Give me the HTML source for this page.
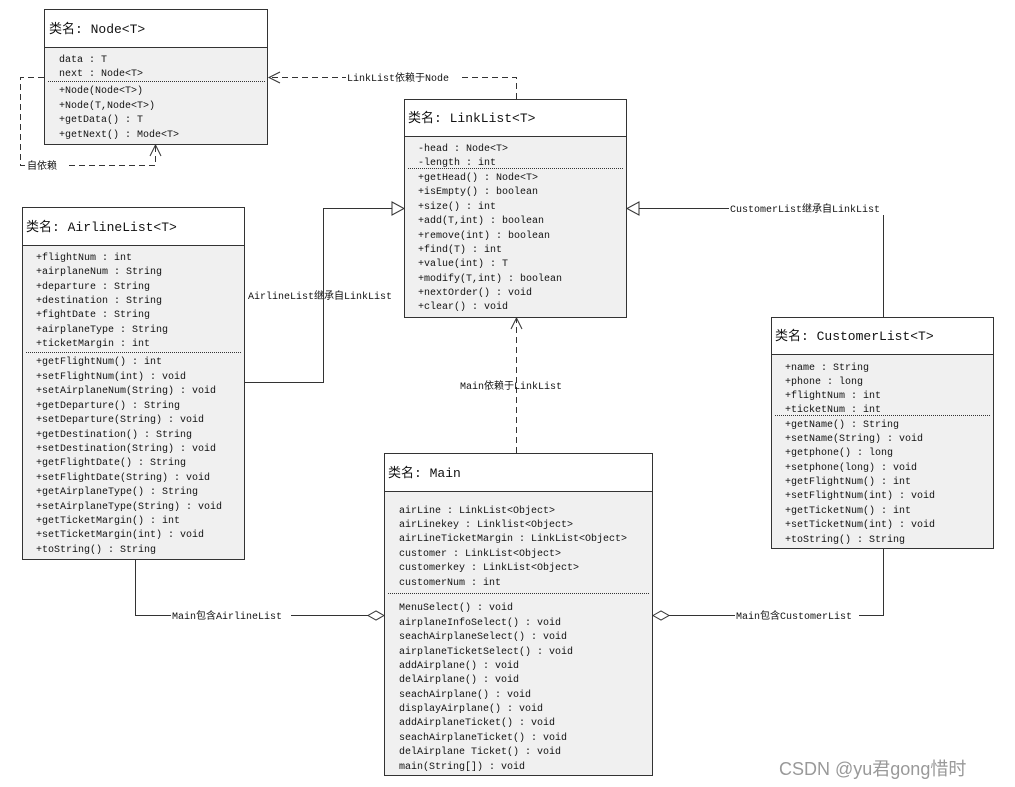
<!DOCTYPE html>
<html><head><meta charset="utf-8"><style>
html,body{margin:0;padding:0;background:#fff;width:1015px;height:787px;overflow:hidden}
svg text{font-family:"Liberation Mono","Noto Sans CJK SC",monospace;font-size:10px;fill:#111}
svg text.h{font-size:13px}
svg text.l{font-size:10px}
</style></head><body>
<svg width="1015" height="787" viewBox="0 0 1015 787" xmlns="http://www.w3.org/2000/svg">
<g stroke="#333" stroke-width="1" fill="none">
<path d="M516.5,99 V77.5 H270" stroke-dasharray="6,4"/>
<path d="M280,72 L269,77.5 L280,83" />
<path d="M44,77.5 H20.5 V165.5 H155.5 V146" stroke-dasharray="6,4"/>
<path d="M150,156 L155.5,145 L161,156"/>
<path d="M245,382.5 H323.5 V208.5 H392"/>
<path d="M392,202 L404,208.5 L392,215 Z" fill="#fff"/>
<path d="M883.5,317 V208.5 H639"/>
<path d="M639,202 L627,208.5 L639,215 Z" fill="#fff"/>
<path d="M516.5,453 V319" stroke-dasharray="6,4"/>
<path d="M511,329 L516.5,318 L522,329"/>
<path d="M135.5,559 V615.5 H368"/>
<path d="M384,615.5 L376,611 L368,615.5 L376,620 Z" fill="#fff"/>
<path d="M883.5,549 V615.5 H669"/>
<path d="M653,615.5 L661,611 L669,615.5 L661,620 Z" fill="#fff"/>
</g>
<rect x="346" y="70" width="116" height="14" fill="#fff"/>
<text class="l" x="347" y="81">LinkList依赖于Node</text>
<rect x="26" y="158" width="40" height="14" fill="#fff"/>
<text class="l" x="27" y="169">自依赖</text>
<text class="l" x="248" y="299">AirlineList继承自LinkList</text>
<rect x="729" y="201" width="160" height="14" fill="#fff"/>
<text class="l" x="730" y="212">CustomerList继承自LinkList</text>
<text class="l" x="460" y="389">Main依赖于LinkList</text>
<rect x="171" y="608" width="120" height="14" fill="#fff"/>
<text class="l" x="172" y="619">Main包含AirlineList</text>
<rect x="735" y="608" width="124" height="14" fill="#fff"/>
<text class="l" x="736" y="619">Main包含CustomerList</text>

<rect x="44.5" y="9.5" width="223" height="135" fill="#f0f0f0" stroke="#333"/>
<rect x="45" y="10" width="222" height="37" fill="#fff"/>
<line x1="44" y1="47.5" x2="268" y2="47.5" stroke="#333"/>
<line x1="48" y1="81.5" x2="265" y2="81.5" stroke="#333" stroke-dasharray="1,1"/>
<text class="h" x="49" y="33">类名: Node&lt;T&gt;</text>
<text x="59" y="62">data : T</text>
<text x="59" y="76">next : Node&lt;T&gt;</text>
<text x="59" y="93">+Node(Node&lt;T&gt;)</text>
<text x="59" y="108">+Node(T,Node&lt;T&gt;)</text>
<text x="59" y="122">+getData() : T</text>
<text x="59" y="137">+getNext() : Mode&lt;T&gt;</text>

<rect x="404.5" y="99.5" width="222" height="218" fill="#f0f0f0" stroke="#333"/>
<rect x="405" y="100" width="221" height="36" fill="#fff"/>
<line x1="404" y1="136.5" x2="627" y2="136.5" stroke="#333"/>
<line x1="408" y1="168.5" x2="623" y2="168.5" stroke="#333" stroke-dasharray="1,1"/>
<text class="h" x="408" y="122">类名: LinkList&lt;T&gt;</text>
<text x="418" y="151">-head : Node&lt;T&gt;</text>
<text x="418" y="165">-length : int</text>
<text x="418" y="180">+getHead() : Node&lt;T&gt;</text>
<text x="418" y="194">+isEmpty() : boolean</text>
<text x="418" y="209">+size() : int</text>
<text x="418" y="223">+add(T,int) : boolean</text>
<text x="418" y="238">+remove(int) : boolean</text>
<text x="418" y="252">+find(T) : int</text>
<text x="418" y="266">+value(int) : T</text>
<text x="418" y="281">+modify(T,int) : boolean</text>
<text x="418" y="295">+nextOrder() : void</text>
<text x="418" y="309">+clear() : void</text>

<rect x="22.5" y="207.5" width="222" height="352" fill="#f0f0f0" stroke="#333"/>
<rect x="23" y="208" width="221" height="37" fill="#fff"/>
<line x1="22" y1="245.5" x2="245" y2="245.5" stroke="#333"/>
<line x1="26" y1="352.5" x2="242" y2="352.5" stroke="#333" stroke-dasharray="1,1"/>
<text class="h" x="26" y="231">类名: AirlineList&lt;T&gt;</text>
<text x="36" y="260">+flightNum : int</text>
<text x="36" y="274">+airplaneNum : String</text>
<text x="36" y="289">+departure : String</text>
<text x="36" y="303">+destination : String</text>
<text x="36" y="317">+fightDate : String</text>
<text x="36" y="332">+airplaneType : String</text>
<text x="36" y="346">+ticketMargin : int</text>
<text x="36" y="364">+getFlightNum() : int</text>
<text x="36" y="379">+setFlightNum(int) : void</text>
<text x="36" y="393">+setAirplaneNum(String) : void</text>
<text x="36" y="408">+getDeparture() : String</text>
<text x="36" y="422">+setDeparture(String) : void</text>
<text x="36" y="437">+getDestination() : String</text>
<text x="36" y="451">+setDestination(String) : void</text>
<text x="36" y="465">+getFlightDate() : String</text>
<text x="36" y="480">+setFlightDate(String) : void</text>
<text x="36" y="494">+getAirplaneType() : String</text>
<text x="36" y="509">+setAirplaneType(String) : void</text>
<text x="36" y="523">+getTicketMargin() : int</text>
<text x="36" y="537">+setTicketMargin(int) : void</text>
<text x="36" y="552">+toString() : String</text>

<rect x="771.5" y="317.5" width="222" height="231" fill="#f0f0f0" stroke="#333"/>
<rect x="772" y="318" width="221" height="36" fill="#fff"/>
<line x1="771" y1="354.5" x2="994" y2="354.5" stroke="#333"/>
<line x1="775" y1="415.5" x2="991" y2="415.5" stroke="#333" stroke-dasharray="1,1"/>
<text class="h" x="775" y="340">类名: CustomerList&lt;T&gt;</text>
<text x="785" y="370">+name : String</text>
<text x="785" y="384">+phone : long</text>
<text x="785" y="398">+flightNum : int</text>
<text x="785" y="412">+ticketNum : int</text>
<text x="785" y="427">+getName() : String</text>
<text x="785" y="441">+setName(String) : void</text>
<text x="785" y="455">+getphone() : long</text>
<text x="785" y="470">+setphone(long) : void</text>
<text x="785" y="484">+getFlightNum() : int</text>
<text x="785" y="498">+setFlightNum(int) : void</text>
<text x="785" y="513">+getTicketNum() : int</text>
<text x="785" y="527">+setTicketNum(int) : void</text>
<text x="785" y="542">+toString() : String</text>

<rect x="384.5" y="453.5" width="268" height="322" fill="#f0f0f0" stroke="#333"/>
<rect x="385" y="454" width="267" height="37" fill="#fff"/>
<line x1="384" y1="491.5" x2="653" y2="491.5" stroke="#333"/>
<line x1="388" y1="593.5" x2="650" y2="593.5" stroke="#333" stroke-dasharray="1,1"/>
<text class="h" x="388" y="477">类名: Main</text>
<text x="399" y="513">airLine : LinkList&lt;Object&gt;</text>
<text x="399" y="527">airLinekey : Linklist&lt;Object&gt;</text>
<text x="399" y="541">airLineTicketMargin : LinkList&lt;Object&gt;</text>
<text x="399" y="556">customer : LinkList&lt;Object&gt;</text>
<text x="399" y="570">customerkey : LinkList&lt;Object&gt;</text>
<text x="399" y="585">customerNum : int</text>
<text x="399" y="610">MenuSelect() : void</text>
<text x="399" y="625">airplaneInfoSelect() : void</text>
<text x="399" y="639">seachAirplaneSelect() : void</text>
<text x="399" y="654">airplaneTicketSelect() : void</text>
<text x="399" y="668">addAirplane() : void</text>
<text x="399" y="682">delAirplane() : void</text>
<text x="399" y="697">seachAirplane() : void</text>
<text x="399" y="711">displayAirplane() : void</text>
<text x="399" y="725">addAirplaneTicket() : void</text>
<text x="399" y="740">seachAirplaneTicket() : void</text>
<text x="399" y="754">delAirplane Ticket() : void</text>
<text x="399" y="769">main(String[]) : void</text>

<text x="779" y="775" style="font-family:'Liberation Sans','Noto Sans CJK SC',sans-serif;font-size:18px;fill:#999">CSDN @yu君gong惜时</text>
</svg>
</body></html>
